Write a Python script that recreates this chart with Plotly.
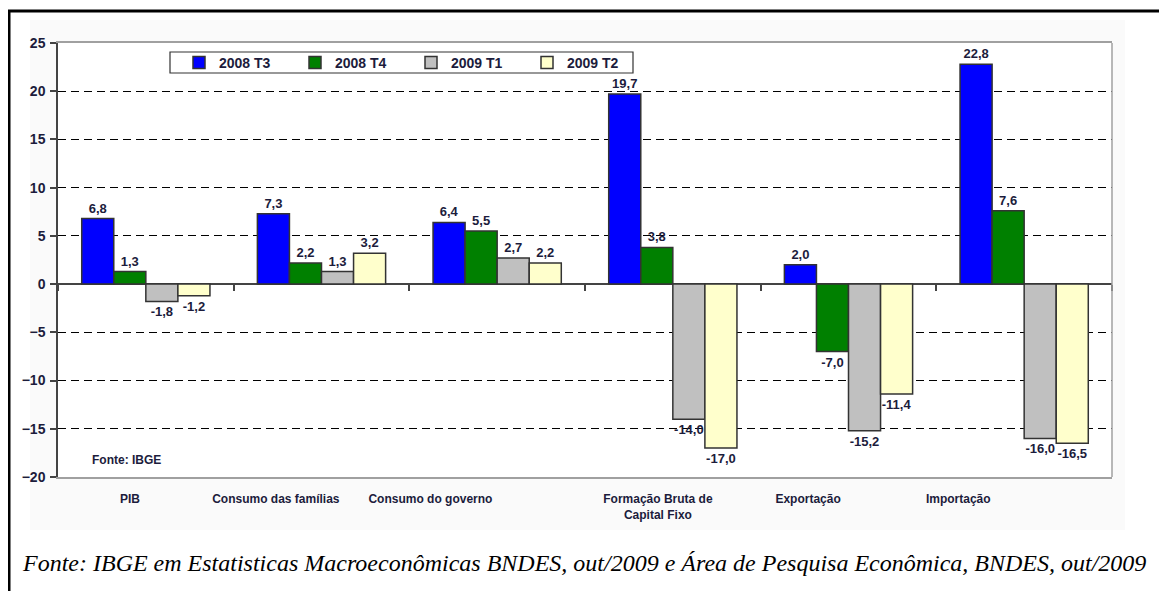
import plotly.graph_objects as go

categories = ["PIB", "Consumo das famílias", "Consumo do governo",
              "Formação Bruta de<br>Capital Fixo", "Exportação", "Importação"]
series_names = ["2008 T3", "2008 T4", "2009 T1", "2009 T2"]
t3_2008 = [6.8, 7.3, 6.4, 19.7, 2.0, 22.8]
t4_2008 = [1.3, 2.2, 5.5, 3.8, -7.0, 7.6]
t1_2009 = [-1.8, 1.3, 2.7, -14.0, -15.2, -16.0]
t2_2009 = [-1.2, 3.2, 2.2, -17.0, -11.4, -16.5]
y_ticks = [-20, -15, -10, -5, 0, 5, 10, 15, 20, 25]

series_values = [t3_2008, t4_2008, t1_2009, t2_2009]
colors = ["#0000ff", "#008000", "#c0c0c0", "#ffffcc"]
# horizontal shift of each category label (in category units), as in the original
label_shift = [-0.09, -0.26, -0.38, -0.085, -0.23, -0.375]

TXT = "#1c1c3c"
FONT = "Liberation Sans"

x_idx = list(range(len(categories)))

fig = go.Figure()
for name, vals, col in zip(series_names, series_values, colors):
    fig.add_trace(go.Bar(
        x=x_idx, y=vals, name=name,
        marker=dict(color=col, line=dict(color="#333333", width=1.5)),
        text=[f"{v:.1f}".replace(".", ",") for v in vals],
        textposition="outside",
        constraintext="none",
        cliponaxis=False,
        textfont=dict(family=FONT, size=13, color=TXT, weight="bold"),
    ))

# invisible trace to carry the zero-line tick axis
fig.add_trace(go.Scatter(x=x_idx, y=[None] * len(x_idx), xaxis="x2",
                         showlegend=False, hoverinfo="skip", mode="markers"))

OFF = 8  # page body margin
W, H = 1167 - OFF, 591 - OFF
L, R, T, B = 58 - OFF, 55, 43 - OFF, 114

fig.update_layout(
    width=W, height=H,
    margin=dict(l=L, r=R, t=T, b=B),
    paper_bgcolor="white",
    plot_bgcolor="rgba(0,0,0,0)",
    barmode="group",
    bargap=0.27,
    bargroupgap=0,
    font=dict(family=FONT, size=12, color=TXT),
    xaxis=dict(
        range=[-0.5, 5.5],
        tickmode="array", tickvals=[i + s for i, s in zip(x_idx, label_shift)],
        ticktext=categories,
        tickfont=dict(family=FONT, size=12, color=TXT, weight="bold"),
        ticks="", ticklabelstandoff=10,
        showline=True, linecolor="#a0a0a0", linewidth=1.5, mirror=True,
        showgrid=False, zeroline=False,
    ),
    xaxis2=dict(
        range=[-0.5, 5.5], overlaying="x", anchor="free",
        position=20 / 45,
        tickmode="array", tickvals=[i + 0.5 for i in range(-1, 6)],
        ticks="outside", ticklen=6, tickwidth=1.5, tickcolor="#444444",
        showticklabels=False, showline=False, showgrid=False, zeroline=False,
    ),
    yaxis=dict(
        range=[-20, 25],
        tickmode="array", tickvals=y_ticks,
        tickfont=dict(family=FONT, size=14, color=TXT, weight="bold"),
        ticks="outside", ticklen=6, tickwidth=1.5, tickcolor="#444444",
        ticklabelstandoff=2,
        showline=True, linecolor="#444444", linewidth=1.5,
        showgrid=True, gridcolor="#000000", gridwidth=1, griddash="8px,5px",
        zeroline=True, zerolinecolor="#444444", zerolinewidth=1.5,
    ),
    legend=dict(
        orientation="h",
        x=0, y=0,
        xanchor="left", yanchor="middle",
        bgcolor="rgba(0,0,0,0)", borderwidth=0,
        font=dict(family=FONT, size=14, color=TXT, weight="bold"),
        entrywidth=71, entrywidthmode="pixels",
        itemwidth=30,
        traceorder="normal",
    ),
    showlegend=True,
)

pw, ph = W - L - R, H - T - B


def px_to_paper_x(px):
    return (px - OFF - L) / pw


def px_to_paper_y(py):
    return 1 - (py - OFF - T) / ph


fig.update_layout(legend=dict(x=px_to_paper_x(179), y=px_to_paper_y(63)))

# light background panel and outer black frame
fig.add_shape(type="rect", xref="paper", yref="paper", layer="below",
              x0=px_to_paper_x(30), x1=px_to_paper_x(1125),
              y0=px_to_paper_y(530), y1=px_to_paper_y(20),
              fillcolor="#fafafa", line=dict(width=0))
fig.add_shape(type="rect", xref="paper", yref="paper", layer="below",
              x0=0, x1=1, y0=0, y1=1,
              fillcolor="white", line=dict(width=0))
fig.add_shape(type="rect", xref="paper", yref="paper",
              x0=px_to_paper_x(9), x1=px_to_paper_x(1200),
              y0=px_to_paper_y(640), y1=px_to_paper_y(11),
              line=dict(color="black", width=3), fillcolor="rgba(0,0,0,0)")
# right border of plot area
fig.add_shape(type="line", xref="paper", yref="paper", x0=1, x1=1, y0=0, y1=1,
              line=dict(color="#a0a0a0", width=1.5))
# legend box
fig.add_shape(type="rect", xref="paper", yref="paper",
              x0=px_to_paper_x(170), x1=px_to_paper_x(633),
              y0=px_to_paper_y(73), y1=px_to_paper_y(52),
              line=dict(color="#333333", width=1.2), fillcolor="white",
              layer="below")

fig.add_annotation(text="Fonte: IBGE", xref="paper", yref="paper",
                   x=px_to_paper_x(90), y=px_to_paper_y(460),
                   xanchor="left", yanchor="middle", showarrow=False,
                   font=dict(family=FONT, size=12, color=TXT, weight="bold"))

fig.add_annotation(
    text="Fonte: IBGE em Estatisticas Macroeconômicas BNDES, out/2009 e Área de Pesquisa Econômica, BNDES, out/2009",
    xref="paper", yref="paper",
    x=px_to_paper_x(20), y=px_to_paper_y(563),
    xanchor="left", yanchor="middle", showarrow=False,
    font=dict(family="Liberation Serif", size=24, color="black", style="italic"))

fig.write_html("out.html")
